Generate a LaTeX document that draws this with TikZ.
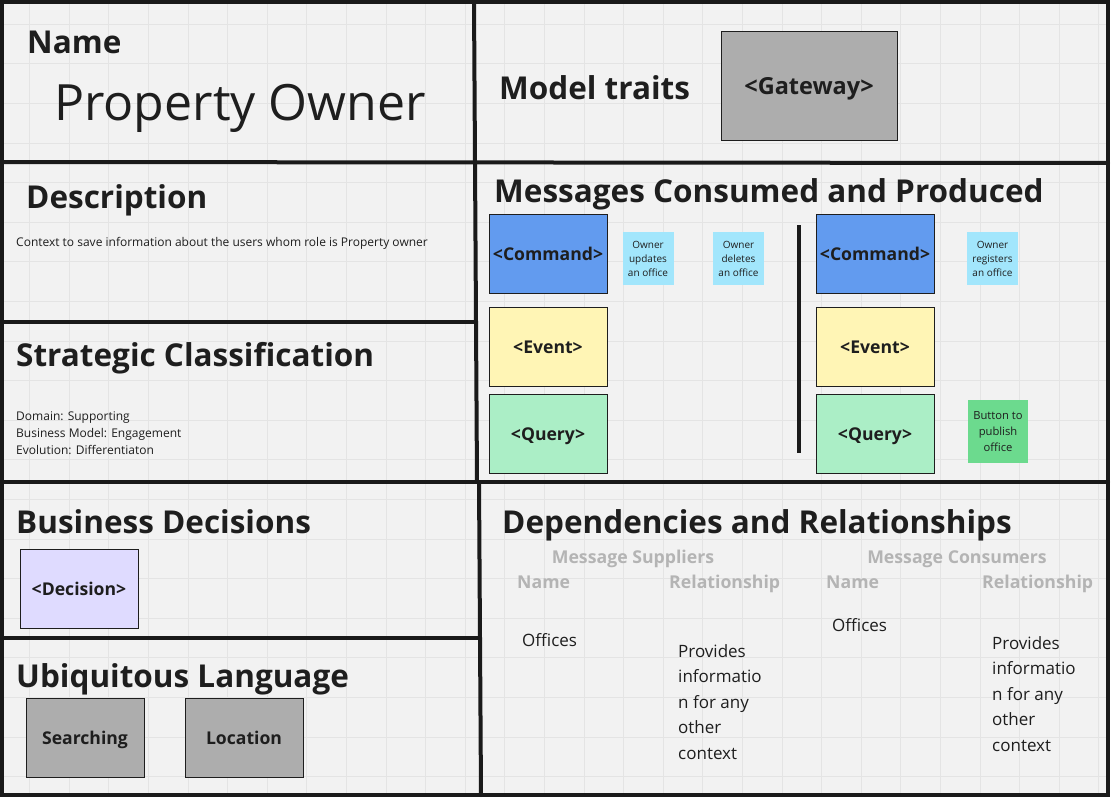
\documentclass[tikz,border=0pt]{standalone}
\usepackage{fontspec}
\setmainfont{Open Sans}
\definecolor{boardbg}{HTML}{F2F2F2}
\definecolor{gridc}{HTML}{E4E4E4}
\definecolor{inkc}{HTML}{1E1E1E}
\definecolor{framec}{HTML}{1A1A1A}
\definecolor{greyc}{HTML}{ADADAD}
\definecolor{cmdc}{HTML}{629BEF}
\definecolor{evtc}{HTML}{FFF5B5}
\definecolor{qryc}{HTML}{ABEEC6}
\definecolor{decc}{HTML}{DFDBFF}
\definecolor{notec}{HTML}{A2E6FC}
\definecolor{btnc}{HTML}{6CDA8E}
\definecolor{labelc}{HTML}{B4B4B4}
\begin{document}
\begin{tikzpicture}[x=1pt,y=-1pt,
    frame/.style={line width=4pt,draw=framec,line cap=round},
    head/.style={anchor=base west,inner sep=0pt,text=inkc,font=\fontsize{31.5}{34}\selectfont\bfseries},
    body/.style={anchor=base west,inner sep=0pt,text=inkc,align=left,font=\fontsize{12}{17}\selectfont},
    card/.style={draw=inkc,line width=1pt,inner sep=0pt,minimum width=118pt,minimum height=79pt,text height=14pt,text depth=0pt,text=inkc,font=\fontsize{17.6}{20}\selectfont\bfseries},
    sticky/.style={fill=notec,inner sep=0pt,minimum width=51pt,minimum height=53pt,align=center,text=inkc,font=\fontsize{10}{14}\selectfont},
    colhead/.style={anchor=base west,inner sep=0pt,text=labelc,font=\fontsize{17.7}{20}\selectfont\bfseries},
    entry/.style={anchor=base west,inner sep=0pt,text=inkc,align=left,font=\fontsize{17}{25.5}\selectfont}]
	\useasboundingbox (0,0) rectangle (1113,800);
	\fill[white] (0,0) rectangle (1113,800);
	\fill[boardbg] (0,0) rectangle (1108,795);
	% board grid
	\foreach \gx in {29.5,69.1,...,1100} \draw[gridc,line width=0.6pt] (\gx,0) -- (\gx,795);
	\foreach \gy in {24,63.6,...,790} \draw[gridc,line width=0.6pt] (0,\gy) -- (1108,\gy);
	% frame
	\draw[frame] (2,2) rectangle (1108,795);
	\draw[frame] (2,162) -- (1108,163);
	\draw[frame] (2,482) -- (1108,482);
	\draw[frame] (2,322) -- (476,322);
	\draw[frame] (2,638) -- (480,638);
	\draw[frame] (474,2) -- (475,162);
	\draw[frame] (475,162) -- (477,482);
	\draw[frame] (479,482) -- (481,795);
	% name
	\node[head] (name) at (27,53) {Name};
	\node[anchor=base west,inner sep=0pt,text=inkc,font=\fontsize{50}{56}\selectfont] (owner) at (54,120) {Property Owner};
	% model traits
	\node[head] (traits) at (499,99) {Model traits};
	\node[card,fill=greyc,minimum width=176pt,minimum height=108pt,text height=17.8pt,font=\fontsize{23.5}{26}\selectfont\bfseries] (gateway) at (809,86) {<Gateway>};
	% description
	\node[head] (descr) at (26,208) {Description};
	\node[body] (context) at (16,246) {Context to save information about the users whom role is Property owner};
	% strategic classification
	\node[head] (strat) at (16,366) {Strategic Classification};
	\node[body] (domain) at (16,454) {Domain: Supporting\\Business Model: Engagement\\Evolution: Differentiaton};
	% messages
	\node[head] (msgs) at (494,202) {Messages Consumed and Produced};
	\node[card,fill=cmdc] (cmdL) at (548,253.5) {<Command>};
	\node[card,fill=evtc] (evtL) at (548,346.5) {<Event>};
	\node[card,fill=qryc] (qryL) at (548,433.5) {<Query>};
	\node[card,fill=cmdc] (cmdR) at (875,253.5) {<Command>};
	\node[card,fill=evtc] (evtR) at (875,346.5) {<Event>};
	\node[card,fill=qryc] (qryR) at (875,433.5) {<Query>};
	\coordinate (barT) at (799,225);
	\coordinate (barB) at (799,453);
	\draw[line width=4pt,framec] (barT) -- (barB);
	\node[sticky] (updates) at (648,258.5) {Owner\\updates\\an office};
	\node[sticky] (deletes) at (738.5,258.5) {Owner\\deletes\\an office};
	\node[sticky] (registers) at (992.5,258.5) {Owner\\registers\\an office};
	\node[sticky,fill=btnc,minimum width=60pt,minimum height=63pt,font=\fontsize{11.2}{16}\selectfont] (publish) at (998,431.5) {Button to\\publish\\office};
	% business decisions
	\node[head] (decis) at (16,533) {Business Decisions};
	\node[card,fill=decc] (decision) at (79,588.5) {<Decision>};
	% ubiquitous language
	\node[head] (ubiq) at (16,687) {Ubiquitous Language};
	\node[card,fill=greyc] (searching) at (85,737.5) {Searching};
	\node[card,fill=greyc] (location) at (244,737.5) {Location};
	% dependencies
	\node[head] (deps) at (502,533) {Dependencies and Relationships};
	\node[colhead,anchor=base] (suppl) at (633,563) {Message Suppliers};
	\node[colhead,anchor=base] (consum) at (957,563) {Message Consumers};
	\node[colhead] (nameL) at (517,588) {Name};
	\node[colhead] (relL) at (669,588) {Relationship};
	\node[colhead] (nameR) at (826,588) {Name};
	\node[colhead] (relR) at (982,588) {Relationship};
	\node[entry] (offL) at (522,646) {Offices};
	\node[entry] (offR) at (832,631) {Offices};
	\node[entry] (provL) at (678,759) {Provides\\informatio\\n for any\\other\\context};
	\node[entry] (provR) at (992,751) {Provides\\informatio\\n for any\\other\\context};
\end{tikzpicture}
\end{document}
